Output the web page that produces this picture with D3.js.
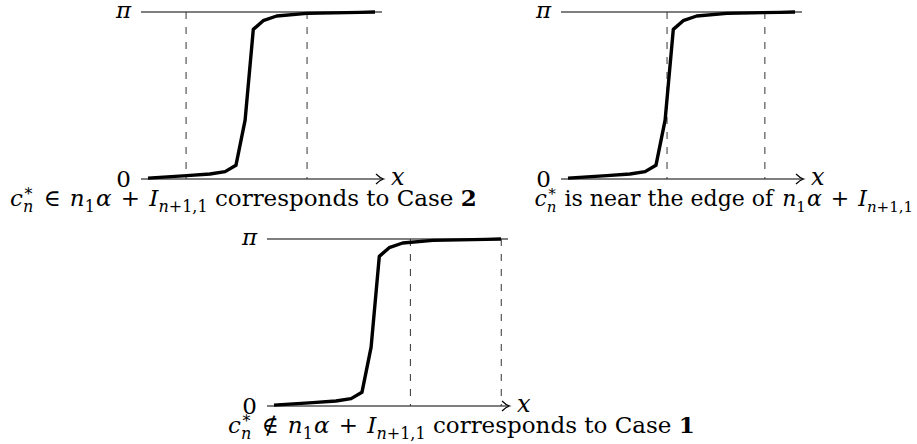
<!DOCTYPE html>
<meta charset="utf-8">
<style>
body { margin: 0; background: #fff; }
svg { display: block; }
text, tspan { font-family: "DejaVu Serif", "Liberation Serif", serif; fill: #000; }
.frame { fill: none; stroke: #000; stroke-width: 1.2px; }
.guide { fill: none; stroke: #333; stroke-width: 1px; stroke-dasharray: 7,8; }
.curve { fill: none; stroke: #000; stroke-width: 3.4px; stroke-linejoin: round; }
</style>
<body>
<script src="https://d3js.org/d3.v7.min.js"></script>
<script>

// the phase curve, same shape in every panel (x in axis units 0..10, y in units of pi)
var curveX = [0.29, 1.9, 2.86, 3.49, 3.94, 4.32, 4.66, 5.07, 5.63, 6.88, 9.09, 9.71];
var curveY = [0.005, 0.02, 0.03, 0.044, 0.082, 0.353, 0.896, 0.948, 0.976, 0.992, 0.998, 1.0];

// dashed edges of n1*alpha + I_{n+1,1}, one pair per panel
var edges1 = [1.87, 6.89];
var edges2 = [4.4, 8.46];
var edges3 = [5.95, 9.72];

var yTicks = [0, 1];
var yTickLabels = ["0", "\u03c0"];

var width = 917, height = 444,
    plotW = 241, plotH = 167;

var x = d3.scaleLinear().domain([0, 10]).range([0, plotW]);
var y = d3.scaleLinear().domain([0, 1]).range([plotH, 0]);

var line = d3.line()
    .x(function(d) { return x(d[0]); })
    .y(function(d) { return y(d[1]); });

var curve = d3.zip(curveX, curveY);

var svg = d3.select("body").append("svg")
    .attr("width", width)
    .attr("height", height);

var panels = [
  {left: 141, top: 12, edges: edges1},
  {left: 561, top: 12, edges: edges2},
  {left: 267, top: 239, edges: edges3}
];

panels.forEach(function(p) {
  var g = svg.append("g")
      .attr("transform", "translate(" + p.left + "," + p.top + ")");

  // line at pi
  g.append("line")
      .attr("class", "frame")
      .attr("x1", x(0)).attr("x2", x(10))
      .attr("y1", y(1)).attr("y2", y(1));

  // x axis with arrow
  g.append("line")
      .attr("class", "frame")
      .attr("x1", x(0)).attr("x2", x(10) + 1)
      .attr("y1", y(0)).attr("y2", y(0));
  g.append("path")
      .attr("class", "frame")
      .attr("d", "M" + (x(10) - 6) + "," + (y(0) - 5) +
                 "Q" + (x(10) - 2) + "," + (y(0) - 1) + " " + (x(10) + 1.5) + "," + y(0) +
                 "Q" + (x(10) - 2) + "," + (y(0) + 1) + " " + (x(10) - 6) + "," + (y(0) + 5));

  g.append("text")
      .attr("x", x(10) + 9)
      .attr("y", y(0))
      .attr("dy", "0.24em")
      .style("font-style", "italic")
      .style("font-size", "24px")
      .text("x");

  g.selectAll(".ylab")
      .data(yTicks)
    .enter().append("text")
      .attr("class", "ylab")
      .attr("x", x(0) - 10)
      .attr("y", function(d) { return y(d); })
      .attr("dy", function(d) { return d ? "0.26em" : "0.36em"; })
      .attr("text-anchor", "end")
      .style("font-style", function(d) { return d ? "italic" : "normal"; })
      .style("font-size", "23px")
      .text(function(d, i) { return yTickLabels[i]; });

  g.selectAll(".guide")
      .data(p.edges)
    .enter().append("line")
      .attr("class", "guide")
      .attr("x1", function(d) { return x(d); })
      .attr("x2", function(d) { return x(d); })
      .attr("y1", y(1))
      .attr("y2", y(0));

  g.append("path")
      .datum(curve)
      .attr("class", "curve")
      .attr("d", line);
});

// captions, built from math pieces; lvl: 0 baseline, 1 superscript, -1 subscript
function caption(px, py, anchor, size, parts) {
  var t = svg.append("text")
      .attr("x", px)
      .attr("y", py)
      .attr("text-anchor", anchor)
      .style("font-size", size + "px");
  var cur = 0, lastSupW = 0;
  parts.forEach(function(s) {
    var ts = t.append("tspan").text(s.t);
    var want = s.lvl === 1 ? -10 : s.lvl === -1 ? 6 : 0;
    if (want !== cur) ts.attr("dy", want - cur);
    cur = want;
    if (s.lvl) ts.style("font-size", Math.round(size * 0.7) + "px");
    if (s.i) ts.style("font-style", "italic");
    if (s.b) ts.style("font-weight", "bold");
    if (s.lvl === 1) lastSupW = ts.node().getComputedTextLength();
    if (s.stack) ts.attr("dx", -lastSupW);
    else if (s.gap) ts.attr("dx", s.gap);
  });
}

var cStar = [
  {t: "c", i: true},
  {t: "\u2217", lvl: 1},
  {t: "n", i: true, lvl: -1, stack: true}
];
var nAlphaI = [
  {t: "n", i: true, gap: 2},
  {t: "1", lvl: -1},
  {t: "\u03b1", i: true, gap: 1},
  {t: " + ", gap: 2},
  {t: "I", i: true, gap: 2},
  {t: "n", i: true, lvl: -1},
  {t: "+1,1", lvl: -1}
];

caption(10, 206, "start", 23, cStar.concat([{t: " \u2208 ", gap: 3}], nAlphaI,
  [{t: " corresponds to Case "}, {t: "2", b: true}]));
caption(913, 206, "end", 22, cStar.concat([{t: " is near the edge of ", gap: 1}], nAlphaI));
caption(228, 433, "start", 23, cStar.concat([{t: " \u2209 ", gap: 3}], nAlphaI,
  [{t: " corresponds to Case "}, {t: "1", b: true}]));

</script>
